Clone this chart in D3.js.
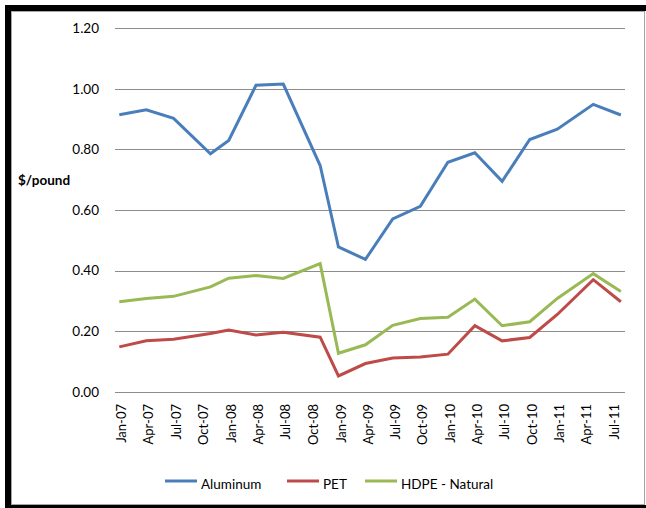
<!DOCTYPE html>
<html>
<head>
<meta charset="utf-8">
<script src="https://cdn.jsdelivr.net/npm/d3@7"></script>
<style>
body { margin: 0; background: #fff; }
svg { display: block; font-family: Lato, "Open Sans", sans-serif; }
</style>
</head>
<body>
<div class="chart"></div>
<script>
// Sampling dates (first of month)
var dates = ["2007-01", "2007-04", "2007-07", "2007-11", "2008-01", "2008-04", "2008-07",
    "2008-11", "2009-01", "2009-04", "2009-07", "2009-10", "2010-01", "2010-04",
    "2010-07", "2010-10", "2011-01", "2011-05", "2011-08"];

// Series values, $/pound
var aluminum = [0.915, 0.931, 0.903, 0.786, 0.830, 1.012, 1.016, 0.747, 0.478, 0.437,
    0.571, 0.612, 0.758, 0.789, 0.695, 0.833, 0.867, 0.949, 0.914];
var pet = [0.148, 0.168, 0.173, 0.192, 0.204, 0.187, 0.196, 0.180, 0.052, 0.093,
    0.111, 0.115, 0.124, 0.218, 0.168, 0.179, 0.255, 0.370, 0.297];
var hdpe = [0.297, 0.308, 0.315, 0.346, 0.375, 0.384, 0.374, 0.423, 0.127, 0.155,
    0.219, 0.242, 0.246, 0.306, 0.218, 0.231, 0.308, 0.390, 0.331];

var series_names = ["Aluminum", "PET", "HDPE - Natural"];
var series_colors = ["#4A7EBB", "#BE4B48", "#98B954"];
var y_ticks = [0, 0.2, 0.4, 0.6, 0.8, 1.0, 1.2];
// Axis labels every quarter, Jan-07 .. Jul-11
var x_ticks = ["2007-01", "2007-04", "2007-07", "2007-10", "2008-01", "2008-04", "2008-07",
    "2008-10", "2009-01", "2009-04", "2009-07", "2009-10", "2010-01", "2010-04",
    "2010-07", "2010-10", "2011-01", "2011-04", "2011-07"];

var W = 646, H = 508;
var parse = d3.timeParse("%Y-%m");
var fmt = d3.timeFormat("%b-%y");

var svg = d3.select(".chart").append("svg")
    .attr("width", W)
    .attr("height", H);

// Frame: black outer band, white panel with thin grey border
svg.append("rect").attr("x", 5).attr("y", 5).attr("width", W - 5).attr("height", H - 5)
    .attr("fill", "#000");
svg.append("rect").attr("x", 11).attr("y", 11).attr("width", W - 11).attr("height", 494)
    .attr("fill", "#fff");
svg.append("rect").attr("x", 11.5).attr("y", 11.5).attr("width", 633).attr("height", 493)
    .attr("fill", "none").attr("stroke", "#a6a6a6").attr("stroke-width", 1);

// Scales
var x = d3.scaleTime()
    .domain([parse("2007-01"), parse("2011-01")])
    .range([119.3, 557.3]);
var y = d3.scaleLinear()
    .domain([0, 1.2])
    .range([391.7, 28.4]);

var plot_left = 115, plot_right = 625;

// Gridlines
svg.append("g").selectAll("line")
    .data(y_ticks)
    .enter().append("line")
    .attr("x1", plot_left)
    .attr("x2", plot_right)
    .attr("y1", function (d) { return Math.round(y(d)) + 0.5; })
    .attr("y2", function (d) { return Math.round(y(d)) + 0.5; })
    .attr("stroke", "#8c8c8c")
    .attr("stroke-width", 1.2);

// Y tick labels
svg.append("g").selectAll("text")
    .data(y_ticks)
    .enter().append("text")
    .attr("x", 99)
    .attr("y", function (d) { return y(d); })
    .attr("dy", "0.36em")
    .attr("text-anchor", "end")
    .attr("font-size", 13.5)
    .attr("fill", "#000")
    .text(function (d) { return d.toFixed(2); });

// Y axis title
svg.append("text")
    .attr("x", 18)
    .attr("y", 180)
    .attr("dy", "0.36em")
    .attr("font-size", 13.5)
    .attr("font-weight", "bold")
    .text("$/pound");

// X tick labels, rotated
svg.append("g").selectAll("text")
    .data(x_ticks)
    .enter().append("text")
    .attr("transform", function (d) {
        return "translate(" + (x(parse(d)) + 2.5) + ",404) rotate(-90)";
    })
    .attr("dy", "0.36em")
    .attr("text-anchor", "end")
    .attr("font-size", 13)
    .text(function (d) { return fmt(parse(d)); });

// Lines
var all_series = [aluminum, pet, hdpe];
var line = d3.line()
    .x(function (d, i) { return x(parse(dates[i])); })
    .y(function (d) { return y(d); });

all_series.forEach(function (vals, k) {
    svg.append("path")
        .datum(vals)
        .attr("d", line)
        .attr("fill", "none")
        .attr("stroke", series_colors[k])
        .attr("stroke-width", 3)
        .attr("stroke-linejoin", "miter");
});

// Legend
var legend_x = [165, 287, 365];
var legend_y = 484;
series_names.forEach(function (name, k) {
    svg.append("line")
        .attr("x1", legend_x[k])
        .attr("x2", legend_x[k] + 32)
        .attr("y1", legend_y - 3)
        .attr("y2", legend_y - 3)
        .attr("stroke", series_colors[k])
        .attr("stroke-width", 3);
    svg.append("text")
        .attr("x", legend_x[k] + 36)
        .attr("y", legend_y)
        .attr("dy", "0.36em")
        .attr("font-size", 13.5)
        .text(name);
});
</script>
</body>
</html>
